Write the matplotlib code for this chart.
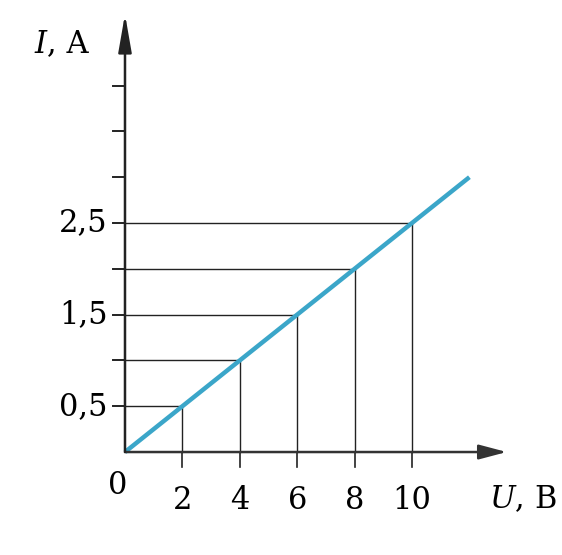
import matplotlib
matplotlib.use("Agg")
import matplotlib.pyplot as plt

# data
U = [2, 4, 6, 8, 10]          # voltage, V
I = [0.5, 1.0, 1.5, 2.0, 2.5]  # current, A
U_line = [0, 12]
I_line = [0, 3]
y_ticks = [0.5, 1.0, 1.5, 2.0, 2.5, 3.0, 3.5, 4.0]
y_labels = {0.5: "0,5", 1.5: "1,5", 2.5: "2,5"}
x_labels = ["2", "4", "6", "8", "10"]

plt.rcParams['font.family'] = ['DejaVu Serif']
fig = plt.figure(figsize=(5.62, 5.55), dpi=100)
ax = fig.add_axes([0, 0, 1, 1])
ax.set_xlim(-4.355, 15.226)
ax.set_ylim(-1.124, 4.934)
ax.axis("off")

px_x = 1 / 28.7   # one pixel in U units
px_y = 1 / 91.6   # one pixel in I units

# helper grid lines
for u, i in zip(U, I):
    ax.plot([u, u], [0, i], color="#222222", lw=1.0)
    ax.plot([0, u], [i, i], color="#222222", lw=1.0)

# axes with arrows
ax.annotate("", xy=(13.3, 0), xytext=(0, 0),
            arrowprops=dict(arrowstyle="-|>,head_length=1.7,head_width=0.45",
                            color="#333333", lw=1.8, shrinkA=0, shrinkB=0))
ax.annotate("", xy=(0, 4.78), xytext=(0, 0),
            arrowprops=dict(arrowstyle="-|>,head_length=2.3,head_width=0.4",
                            color="#222222", lw=1.8, shrinkA=0, shrinkB=0))

# ticks
for y in y_ticks:
    ax.plot([-12 * px_x, 0], [y, y], color="#222222", lw=1.4)
for u in U:
    ax.plot([u, u], [0, -15 * px_y], color="#222222", lw=1.2)

# data line
ax.plot(U_line, I_line, color="#3ba6c9", lw=3.2, solid_capstyle="butt")

# labels
fs = 22
for y, lab in y_labels.items():
    ax.text(-17 * px_x, y, lab, ha="right", va="center", fontsize=fs)
for u, lab in zip(U, x_labels):
    ax.text(u, -48 * px_y, lab, ha="center", va="center", fontsize=fs)
ax.text(-7 * px_x, -33 * px_y, "0", ha="center", va="center", fontsize=fs)
ax.text(15.05, -48 * px_y, "$U$, В", ha="right", va="center", fontsize=fs,
        math_fontfamily="dejavuserif")
ax.text(-2.17, 4.45, "$I$, А", ha="center", va="center", fontsize=fs,
        math_fontfamily="dejavuserif")

fig.savefig("out.png", dpi=100, facecolor="white")
